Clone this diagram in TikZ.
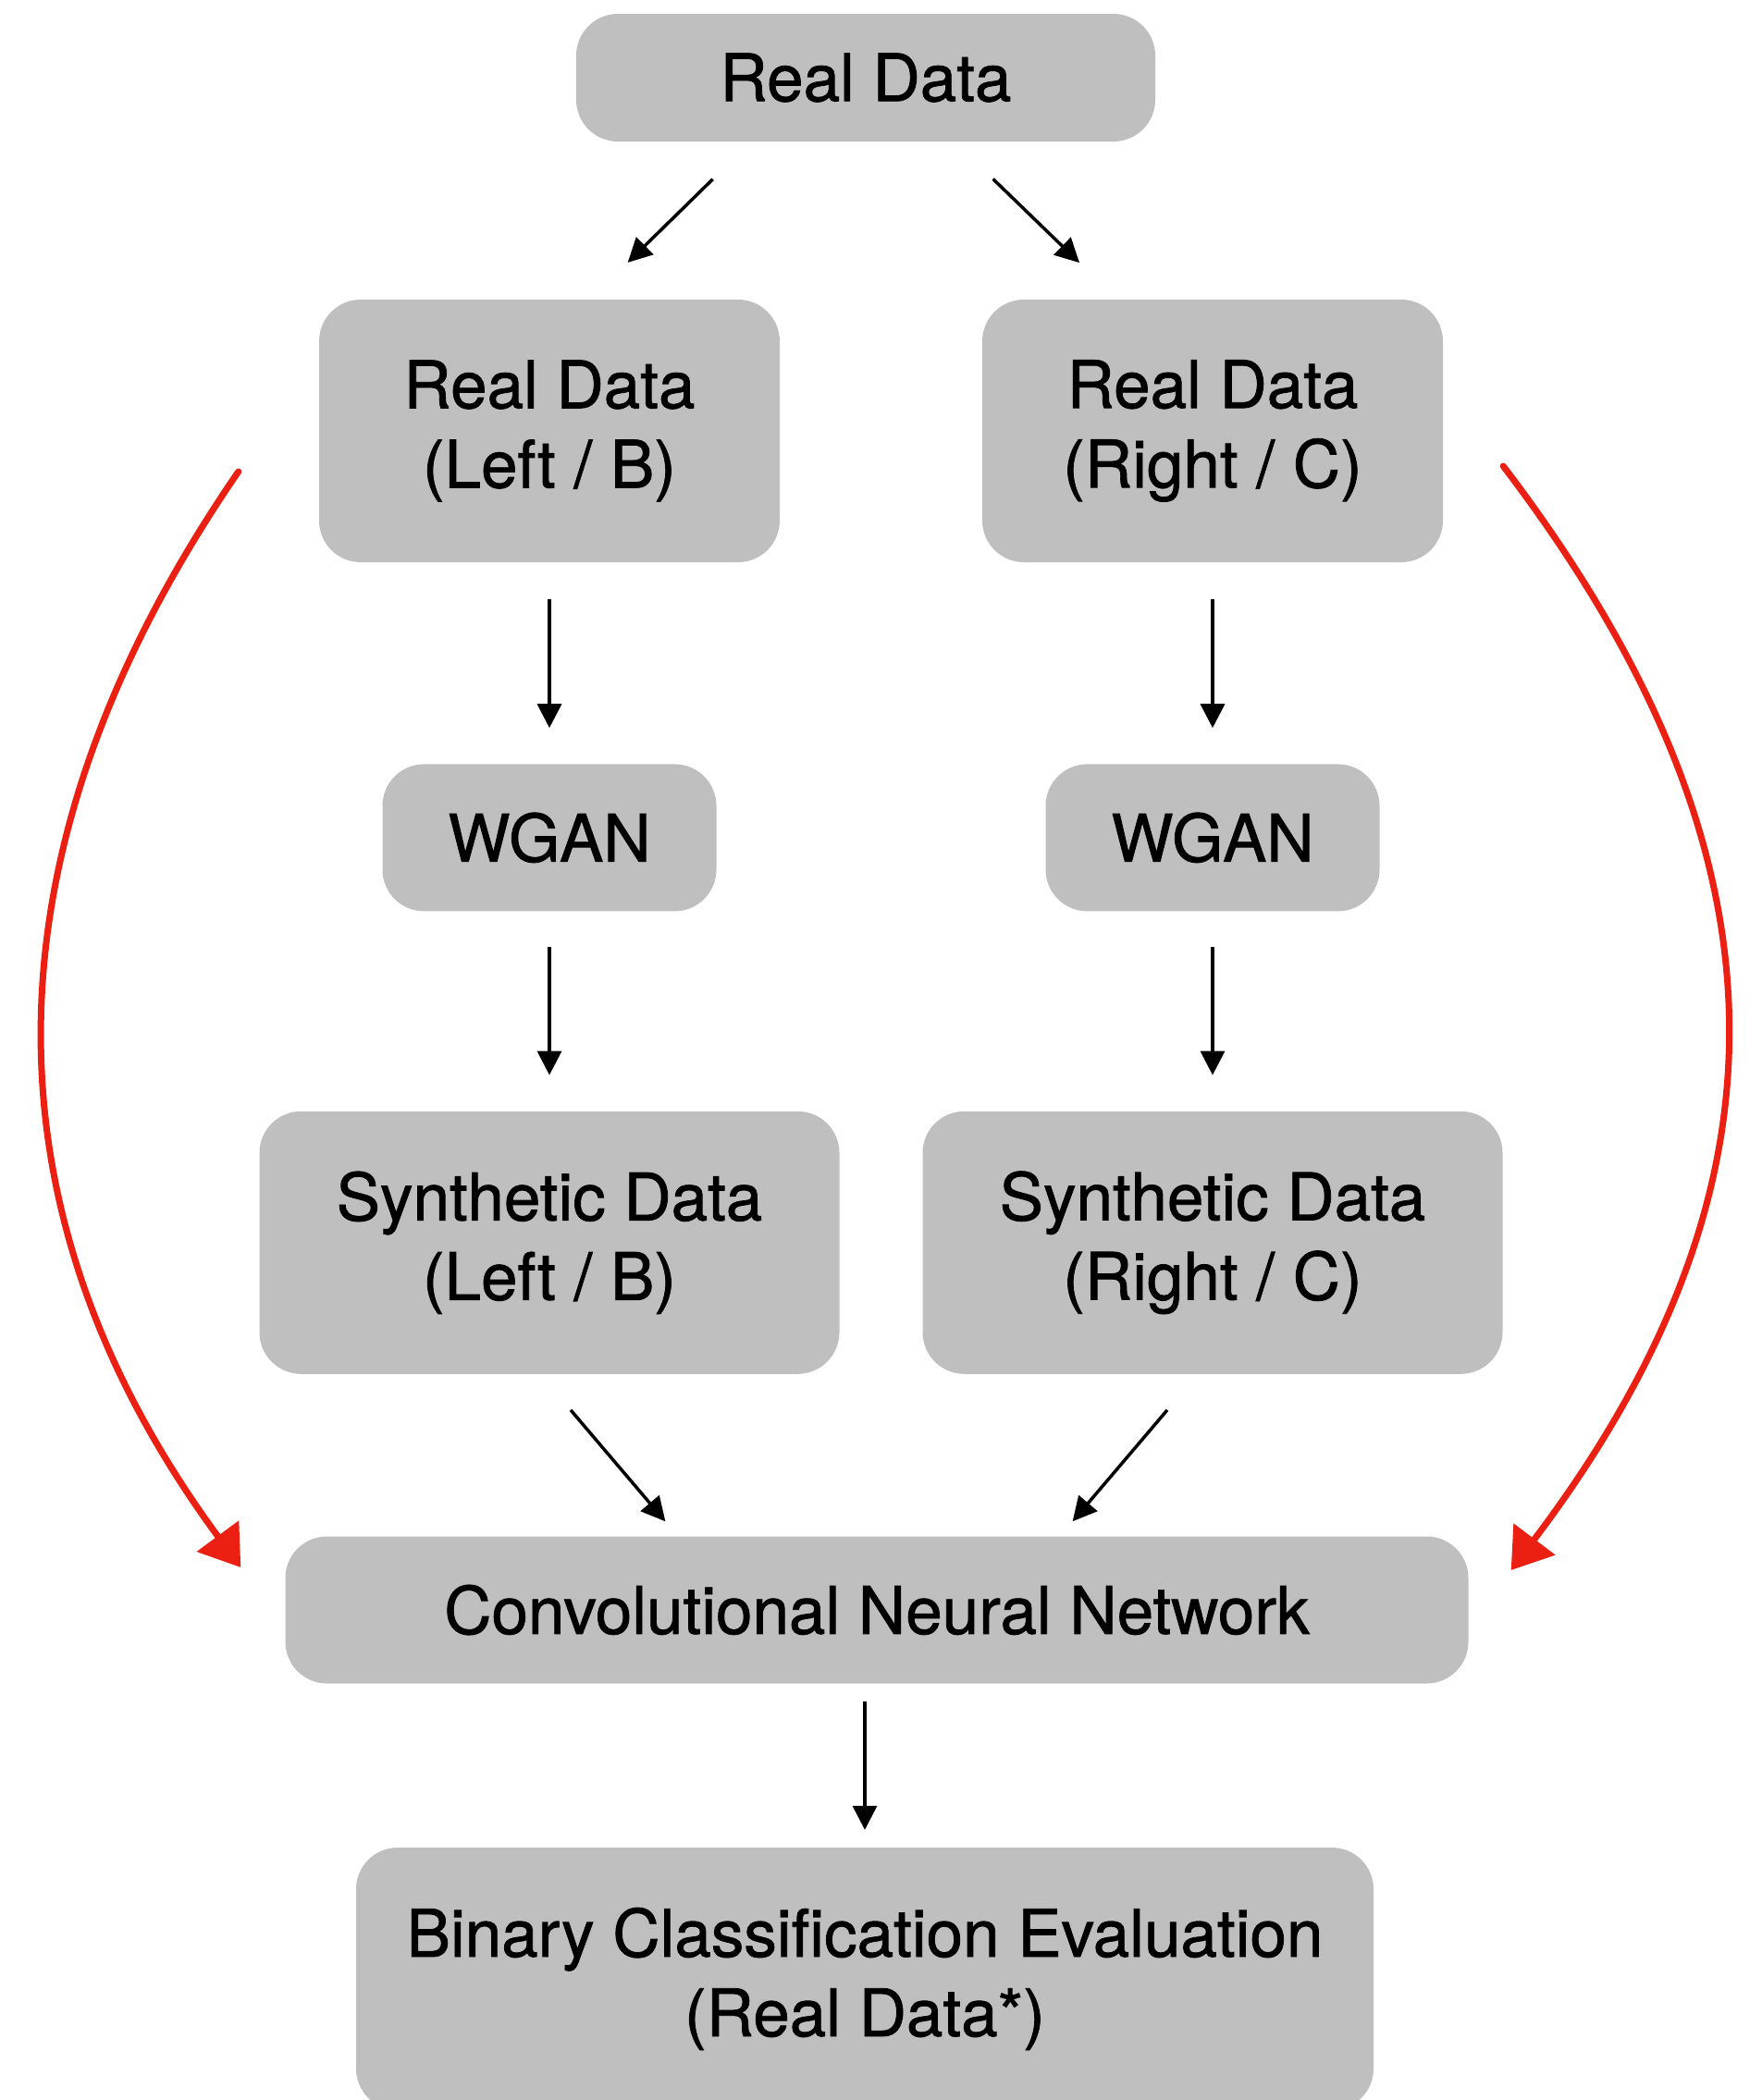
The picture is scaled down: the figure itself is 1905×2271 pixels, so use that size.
\documentclass[tikz,border=0pt]{standalone}
\usepackage{fontspec}
\setmainfont{TeX Gyre Heros}
\newfontfamily\boxfont{TeX Gyre Heros}[FakeBold=1.1]
\usepackage{xcolor}
\usepackage{tikz}
\usetikzlibrary{arrows.meta}
\usetikzlibrary{positioning}
\usetikzlibrary{calc}

\definecolor{boxgray}{RGB}{191,191,191}
\definecolor{penred}{RGB}{236,32,18}

\begin{document}
\begin{tikzpicture}[x=1pt, y=-1pt, node distance=200pt]
          \tikzstyle{box}=[fill=boxgray,rounded corners=45pt,align=center,inner sep=0pt,
                           font=\boxfont\fontsize{71}{86}\selectfont]
          \tikzstyle{flow}=[line width=3.5pt,-{Triangle[length=26pt,width=26pt]}]
          \tikzstyle{pen}=[penred,line width=7pt,line cap=round,-{Triangle[length=42pt,width=55pt]}]
          \useasboundingbox (0,0) rectangle (1905,2271);
          \node[box,minimum width=626pt,minimum height=138pt] (rd) at (936,84) {Real Data} ;
          \node[box,minimum width=498pt,minimum height=284pt] (rdl) at (594,466) {Real Data\\(Left / B)} ;
          \node[box,minimum width=498pt,minimum height=284pt] (rdr) at (1311,466) {Real Data\\(Right / C)} ;
          \node[box,minimum width=361pt,minimum height=159pt] (wgl) [below=218pt of rdl] {WGAN} ;
          \node[box,minimum width=361pt,minimum height=159pt] (wgr) [below=218pt of rdr] {WGAN} ;
          \node[box,minimum width=627pt,minimum height=284pt] (synl) [below=216pt of wgl] {Synthetic Data\\(Left / B)} ;
          \node[box,minimum width=627pt,minimum height=284pt] (synr) [below=216pt of wgr] {Synthetic Data\\(Right / C)} ;
          \node[box,minimum width=1279pt,minimum height=159pt] (cnn) at (948,1741) {Convolutional Neural Network} ;
          \node[box,minimum width=1100pt,minimum height=284pt] (bce) at (935,2140) {Binary Classification Evaluation\\(Real Data*)} ;
          % split
          \draw[flow,shorten <=58pt,shorten >=57pt] ($(rd.south)+(-124,0)$) -- ($(rdl.north)+(44,0)$) ;
          \draw[flow,shorten <=58pt,shorten >=57pt] ($(rd.south)+(96,0)$) -- ($(rdr.north)+(-103,0)$) ;
          \draw[flow,shorten <=40pt,shorten >=39pt] (rdl) -- (wgl) ;
          \draw[flow,shorten <=40pt,shorten >=39pt] (rdr) -- (wgr) ;
          \draw[flow,shorten <=38pt,shorten >=39pt] (wgl) -- (synl) ;
          \draw[flow,shorten <=38pt,shorten >=39pt] (wgr) -- (synr) ;
          \draw[flow,shorten <=51pt,shorten >=21pt] ($(synl.south)+(-10,0)$) -- ($(cnn.north)+(-215,0)$) ;
          \draw[flow,shorten <=51pt,shorten >=21pt] ($(synr.south)+(-16,0)$) -- ($(cnn.north)+(198,0)$) ;
          \draw[flow,shorten <=19pt,shorten >=19pt] (bce.north |- cnn.south) -- (bce.north) ;
          % real data straight into the classifier
          \draw[pen] ($(rdl.west)+(-87,44)$) .. controls +(-280,407) and +(-285,-387) .. ($(cnn.west)+(-48,-46)$) ;
          \draw[pen] ($(rdr.east)+(65,38)$) .. controls +(320,420) and +(312,-413) .. ($(cnn.east)+(46,-43)$) ;
        \end{tikzpicture}
\end{document}
